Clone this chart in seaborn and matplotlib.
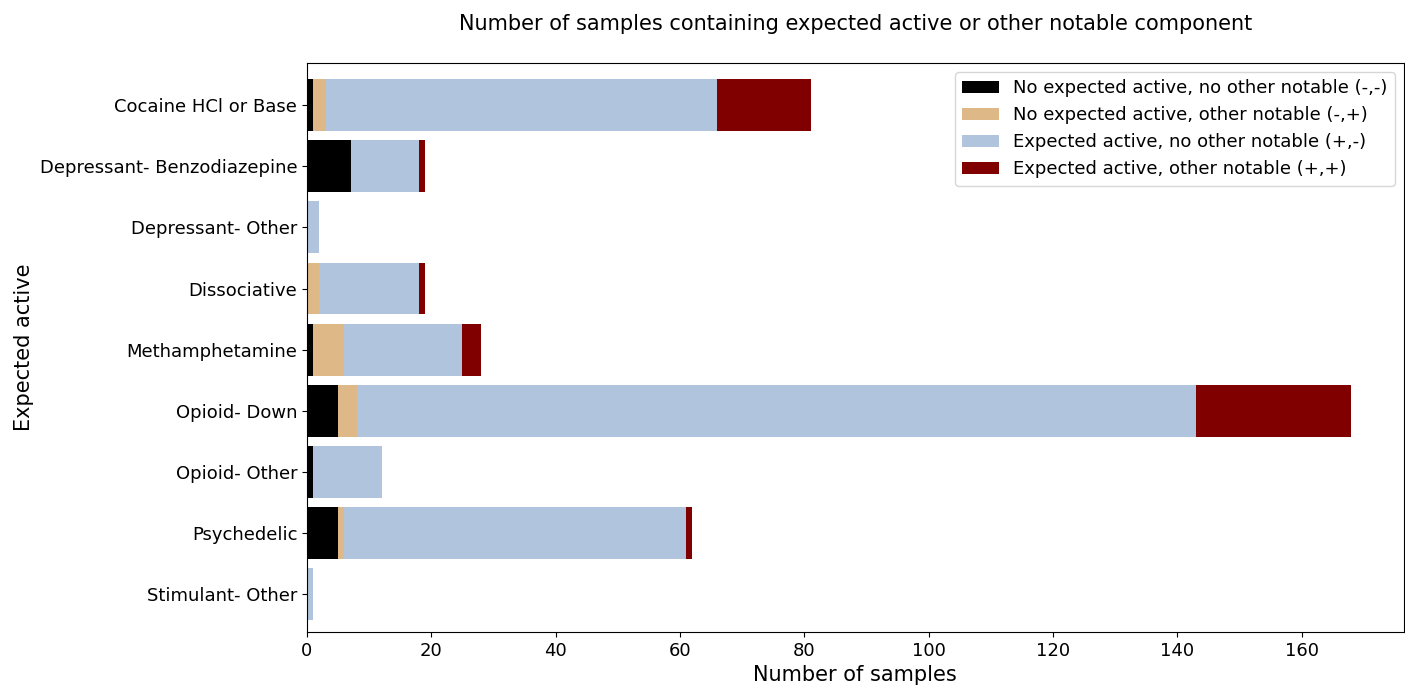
import matplotlib as mpl

mpl.use('Agg')
import matplotlib.pyplot as plt
import seaborn as sns
import numpy as np
import pandas as pd

categories = ['Cocaine HCl or Base', 'Depressant- Benzodiazepine', 'Depressant- Other',
              'Dissociative', 'Methamphetamine', 'Opioid- Down', 'Opioid- Other',
              'Psychedelic', 'Stimulant- Other']
no_active_no_other = [1, 7, 0, 0, 1, 5, 1, 5, 0]
no_active_other = [2, 0, 0, 2, 5, 3, 0, 1, 0]
active_no_other = [63, 11, 2, 16, 19, 135, 11, 55, 1]
active_other = [15, 1, 0, 1, 3, 25, 0, 1, 0]

series_names = ['No expected active, no other notable (-,-)',
                'No expected active, other notable (-,+)',
                'Expected active, no other notable (+,-)',
                'Expected active, other notable (+,+)']
series_colors = ['black', 'burlywood', 'lightsteelblue', 'maroon']


def figure_setup():
    plt.rcParams.update({'font.size': 13, 'font.family': 'DejaVu Sans'})
    df = pd.DataFrame({'cat': categories,
                       's0': no_active_no_other, 's1': no_active_other,
                       's2': active_no_other, 's3': active_other})
    cols = ['s0', 's1', 's2', 's3']
    cum = df[cols].cumsum(axis=1)

    fig, ax = plt.subplots(figsize=(14.05, 6.86), dpi=100)
    # draw from the outermost stack inwards so each layer covers the previous
    for i in reversed(range(4)):
        sns.barplot(x=cum[cols[i]], y=df['cat'], orient='h', color=series_colors[i],
                    width=0.85, ax=ax, saturation=1, label=series_names[i])

    handles, labels = ax.get_legend_handles_labels()
    ax.legend(handles[::-1], labels[::-1], loc='upper right', fontsize=13)

    ax.set_xlim(0, 176.4)
    ax.set_ylim(8.62, -0.69)
    ax.set_xticks([0, 20, 40, 60, 80, 100, 120, 140, 160])
    ax.set_xlabel('Number of samples', fontsize=15, labelpad=4)
    ax.set_ylabel('Expected active', fontsize=15)
    ax.tick_params(labelsize=13)
    ax.set_title('Number of samples containing expected active or other notable component',
                 fontsize=15, pad=24)
    plt.subplots_adjust(left=0.2185, right=0.999, top=0.908, bottom=0.079)
    fig.savefig('out.png', dpi=100)


if __name__ == '__main__':
    figure_setup()
